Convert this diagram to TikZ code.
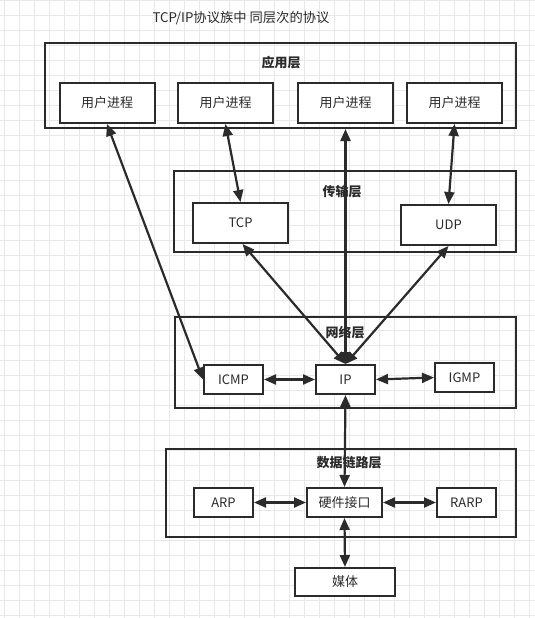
\documentclass[tikz,border=0pt]{standalone}
\usepackage{fontspec}
\setmainfont{Noto Sans CJK SC}
\usepackage{xcolor}
\usepackage{tikz}
\usetikzlibrary{arrows.meta,positioning}

\definecolor{ink}{HTML}{2B2B2B}
\definecolor{gridgray}{HTML}{E8E8E8}

\begin{document}
\begin{tikzpicture}[
  x=1pt, y=-1pt,
  layer/.style={draw=ink, line width=2pt, inner sep=0pt, fill=none},
  proto/.style={draw=ink, line width=2pt, fill=white, inner sep=0pt, minimum width=59pt, minimum height=29pt, font=\fontsize{13}{15}\selectfont, text=ink},
  proc/.style={proto, minimum width=95pt, minimum height=40pt},
  lname/.style={font=\fontsize{13}{15}\selectfont\bfseries, text=ink},
  link/.style={{Triangle[length=12pt,width=10pt]}-{Triangle[length=12pt,width=10pt]}, line width=2.2pt, draw=ink},
]
\useasboundingbox (0,0) rectangle (535,618);
\fill[white] (0,0) rectangle (535,618);

% background grid
\foreach \gx in {4,19,...,534} \draw[gridgray, line width=0.6pt] (\gx,0) -- (\gx,618);
\foreach \gy in {0,15,...,617} \draw[gridgray, line width=0.6pt] (0,\gy) -- (535,\gy);

\node[font=\fontsize{13.3}{15}\selectfont, text=ink] (title) at (241,18) {TCP/IP协议族中 同层次的协议};

% layers
\node[layer, minimum width=471pt, minimum height=85pt] (app) at (280.5,85.5) {};
\node[layer, minimum width=342pt, minimum height=81pt] (trans) at (345,211.5) {};
\node[layer, minimum width=341pt, minimum height=91pt] (net) at (345.5,362.5) {};
\node[layer, minimum width=350pt, minimum height=88pt] (dlink) at (341,493) {};

\node[lname] (appname) at (281,63) {应用层};
\node[lname] (transname) at (342,192) {传输层};
\node[lname] (netname) at (345,333) {网络层};
\node[lname] (dlinkname) at (349,463) {数据链路层};

% application layer
\node[proc] (p1) at (107,103) {用户进程};
\node[proc] (p2) at (225.5,103) {用户进程};
\node[proc] (p3) at (345.5,103) {用户进程};
\node[proc] (p4) at (454.5,103) {用户进程};

% transport layer
\node[proc] (tcp) at (240.5,223) {TCP};
\node[proc] (udp) at (448.5,225) {UDP};

% network layer
\node[proto] (ip) at (345.5,379.5) {IP};
\node[proto, left=51pt of ip] (icmp) {ICMP};
\node[proto] (igmp) at (464.5,377.5) {IGMP};

% data link layer
\node[proto, minimum width=75pt] (hw) at (344.5,502.5) {硬件接口};
\node[proto, left=52pt of hw] (arp) {ARP};
\node[proto, right=53pt of hw] (rarp) {RARP};

\node[proto, minimum width=100pt, minimum height=28pt] (media) at (345,582) {媒体};

% connectors
\draw[link] (p1.south) -- (icmp.west);
\draw[link] (p2.south) -- (tcp.north);
\draw[link] (ip.north |- app.south) -- (ip.north);
\draw[link] (p4.south) -- (udp.north);
\draw[link] ([xshift=2pt]tcp.south) -- (ip.north);
\draw[link] (udp.south) -- (ip.north);
\draw[link] (icmp) -- (ip);
\draw[link] (ip.east) -- (igmp.west);
\draw[link] (ip.south) -- (hw.north);
\draw[link] (arp) -- (hw);
\draw[link] (hw) -- (rarp);
\draw[link] (hw.south) -- (media.north);

\end{tikzpicture}
\end{document}
